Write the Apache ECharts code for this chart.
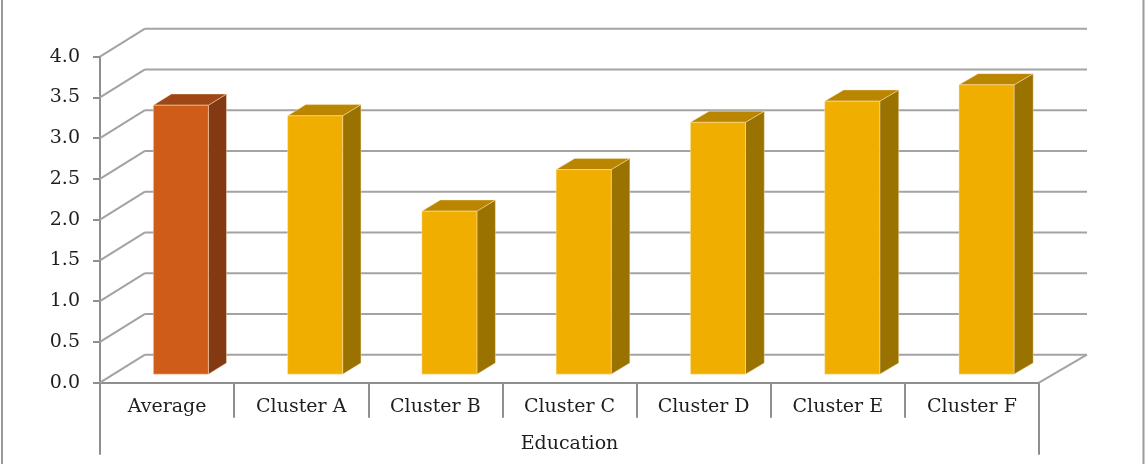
<!DOCTYPE html>
<html>
<head>
<meta charset="utf-8">
<script src="https://cdn.jsdelivr.net/npm/echarts@6/dist/echarts.min.js"></script>
<style>
  html, body { margin: 0; padding: 0; background: #fff; }
  #chart { width: 1145px; height: 464px; }
</style>
</head>
<body>
<div id="chart"></div>
<script>
// Education score per cluster, with the overall average first
const categories = ['Average', 'Cluster A', 'Cluster B', 'Cluster C', 'Cluster D', 'Cluster E', 'Cluster F'];
const scores = [3.30, 3.17, 2.00, 2.51, 3.09, 3.35, 3.55];
const groupLabel = ['Education'];
const yTicks = [0, 0.5, 1, 1.5, 2, 2.5, 3, 3.5, 4];

// ---- styling ----
const FONT = 'DejaVu Serif';
const TEXT = '#1e1e1e';
const AXIS_GRAY = '#8f8f8f';
const GRID_GRAY = '#a3a3a3';
// oblique offset of the back wall relative to the front plane
const DEPTH = { dxLeft: 45, dxRight: 48, dy: 28 };
// bar box: depth range (0 = front, 1 = back wall) and width share of a category
const BAR = { front: 0.305, back: 0.705, width: 0.41 };
const FACES = {
  highlight: { front: '#D05C1A', side: '#833A12', top: '#9E4616' },
  normal:    { front: '#F0AE00', side: '#997200', top: '#BA8500' }
};

function project(cs, pt, d) {
  const t = (pt[0] - cs.x) / cs.width;
  const dx = DEPTH.dxLeft + (DEPTH.dxRight - DEPTH.dxLeft) * t;
  return [pt[0] + dx * d, pt[1] - DEPTH.dy * d];
}

// back wall gridlines, the diagonals running back from the value axis, and the floor edge
function renderWalls(params, api) {
  const cs = params.coordSys;
  const v = api.value(1);
  const y = api.coord([0, v])[1];
  const left = [cs.x, y];
  const right = [cs.x + cs.width, y];
  const bl = project(cs, left, 1);
  const br = project(cs, right, 1);
  const style = { stroke: GRID_GRAY, lineWidth: 2 };
  const children = [
    { type: 'line', shape: { x1: left[0], y1: left[1], x2: bl[0], y2: bl[1] }, style },
    { type: 'line', shape: { x1: bl[0], y1: bl[1], x2: br[0], y2: br[1] }, style }
  ];
  if (v === yTicks[0]) {
    children.push({ type: 'line', shape: { x1: right[0], y1: right[1], x2: br[0], y2: br[1] }, style });
  }
  return { type: 'group', children };
}

// one box per category: front, side and top faces
function renderBar(params, api) {
  const cs = params.coordSys;
  const i = api.value(0);
  const v = api.value(1);
  const base = api.coord([i, 0]);
  const top = api.coord([i, v]);
  const bw = api.size([1, 0])[0] * BAR.width;
  const x0 = base[0] - bw / 2;
  const x1 = base[0] + bw / 2;
  const P = (x, y, d) => project(cs, [x, y], d);
  const fTL = P(x0, top[1], BAR.front), fTR = P(x1, top[1], BAR.front);
  const fBR = P(x1, base[1], BAR.front), fBL = P(x0, base[1], BAR.front);
  const bTL = P(x0, top[1], BAR.back), bTR = P(x1, top[1], BAR.back);
  const bBR = P(x1, base[1], BAR.back);
  const c = categories[i] === 'Average' ? FACES.highlight : FACES.normal;
  const edge = 'rgba(255,235,200,0.55)';
  return {
    type: 'group',
    children: [
      { type: 'polygon', shape: { points: [fTR, bTR, bBR, fBR] }, style: { fill: c.side, stroke: edge, lineWidth: 0.8 } },
      { type: 'polygon', shape: { points: [fTL, bTL, bTR, fTR] }, style: { fill: c.top, stroke: edge, lineWidth: 0.8 } },
      { type: 'polygon', shape: { points: [fTL, fTR, fBR, fBL] }, style: { fill: c.front, stroke: edge, lineWidth: 0.8 } }
    ]
  };
}

const chart = echarts.init(document.getElementById('chart'), null, { renderer: 'canvas' });
chart.setOption({
  animation: false,
  backgroundColor: '#ffffff',
  graphic: [{
    type: 'rect',
    shape: { x: 2, y: -10, width: 1141.5, height: 490 },
    style: { fill: 'none', stroke: '#9a9a9a', lineWidth: 2 },
    silent: true
  }],
  grid: { left: 100, right: 106, top: 56.7, bottom: 81.3, containLabel: false },
  xAxis: [{
    type: 'category',
    data: categories,
    boundaryGap: true,
    axisLine: { show: true, lineStyle: { color: AXIS_GRAY, width: 2 } },
    axisTick: { show: true, length: 35, interval: 0, lineStyle: { color: AXIS_GRAY, width: 2 } },
    axisLabel: { interval: 0, margin: 15, fontFamily: FONT, fontSize: 19, color: TEXT },
    splitLine: { show: false }
  }, {
    type: 'category',
    data: groupLabel,
    position: 'bottom',
    offset: 35,
    boundaryGap: true,
    axisLine: { show: false },
    axisTick: { show: true, length: 37, lineStyle: { color: AXIS_GRAY, width: 2 } },
    axisLabel: { margin: 17, fontFamily: FONT, fontSize: 19, color: TEXT },
    splitLine: { show: false }
  }],
  yAxis: {
    type: 'value',
    min: 0,
    max: 4,
    interval: 0.5,
    axisLine: { show: true, lineStyle: { color: AXIS_GRAY, width: 2 } },
    axisTick: { show: true, length: 7, lineStyle: { color: AXIS_GRAY, width: 2 } },
    axisLabel: { margin: 20, fontFamily: FONT, fontSize: 19, color: TEXT, formatter: v => v.toFixed(1) },
    splitLine: { show: false }
  },
  series: [{
    type: 'custom',
    name: 'walls',
    clip: false,
    silent: true,
    z: 1,
    encode: { x: 0, y: 1 },
    data: yTicks.map(v => [0, v]),
    renderItem: renderWalls
  }, {
    type: 'custom',
    name: 'Education',
    clip: false,
    z: 3,
    encode: { x: 0, y: 1 },
    data: scores.map((v, i) => [i, v]),
    renderItem: renderBar
  }]
});
</script>
</body>
</html>
